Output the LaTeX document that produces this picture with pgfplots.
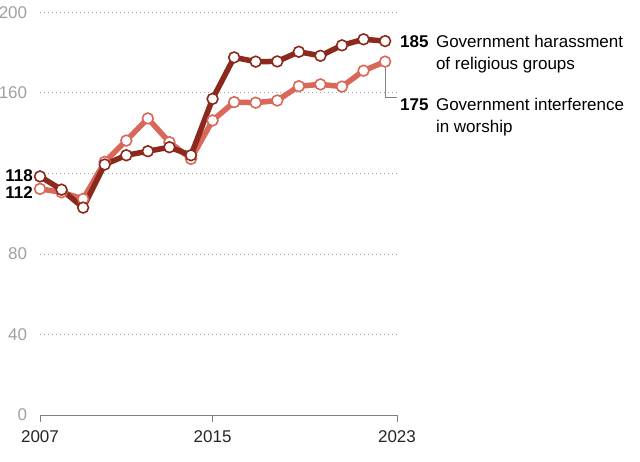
\documentclass[border=0pt]{standalone}
\usepackage{pgfplots}
\pgfplotsset{compat=1.18}
\usepackage{fontspec}
\setmainfont{Liberation Sans}
\definecolor{darkred}{HTML}{8B2A1C}
\definecolor{lightred}{HTML}{D9675A}
\definecolor{gridgray}{HTML}{A8A8A8}
\definecolor{labgray}{HTML}{A0A0A0}
\begin{document}
\fontsize{17bp}{20bp}\selectfont
\begin{tikzpicture}
\begin{axis}[
  scale only axis, width=357bp, height=402.7bp,
  xmin=2007, xmax=2023.55, ymin=0, ymax=200,
  axis x line*=bottom, axis y line*=left,
  y axis line style={draw=none},
  x axis line style={draw=gray, line width=0.9bp},
  xtick={2007,2015,2023.55}, xticklabels={2007,2015,2023},
  ytick={0,40,80,120,160,200}, yticklabels={0,40,80,{},160,200},
  ytick style={draw=none},
  xtick style={draw=gray, line width=0.9bp},
  tick align=outside, major tick length=7bp,
  x tick label style={text=black!85, yshift=-3bp},
  y tick label style={text=labgray, xshift=0bp},
  /pgf/number format/assume math mode=true,
  ymajorgrids, major grid style={draw=gridgray, line width=0.8bp, dash pattern=on 1bp off 3bp},
  clip=false,
  every axis plot/.append style={line width=5.5bp, mark=*, mark size=5.4bp},
]
\addplot[color=lightred, mark options={draw=lightred, fill=white, line width=1.6bp}] coordinates {
(2007,112.3) (2008,110.6) (2009,107.3) (2010,125.7) (2011,136.3) (2012,147.3)
(2013,135.5) (2014,127.2) (2015,146.3) (2016,155.4) (2017,155.1) (2018,156.2)
(2019,163.3) (2020,164.2) (2021,163.1) (2022,171.0) (2023,175.5)};
\addplot[color=darkred, mark options={draw=darkred, fill=white, line width=1.6bp}] coordinates {
(2007,118.5) (2008,111.9) (2009,103.0) (2010,124.4) (2011,129.0) (2012,131.0)
(2013,133.0) (2014,129.0) (2015,157.0) (2016,177.6) (2017,175.5) (2018,175.6)
(2019,180.4) (2020,178.4) (2021,183.6) (2022,186.6) (2023,185.7)};
% leader line
\draw[gray, line width=0.9bp] (axis cs:2023,172.3) -- (axis cs:2023,157.8) -- (axis cs:2023.55,157.8);
% left labels
\node[anchor=east, font=\bfseries, inner sep=0pt] at (axis cs:2006.68,118.8) {118};
\node[anchor=east, font=\bfseries, inner sep=0pt] at (axis cs:2006.68,110.6) {112};
% right labels
\node[anchor=base west, font=\bfseries, inner sep=0pt] at (axis cs:2023.69,182.4) {185};
\node[anchor=base west, inner sep=0pt] at (axis cs:2025.35,182.4) {Government harassment};
\node[anchor=base west, inner sep=0pt] at (axis cs:2025.35,171.8) {of religious groups};
\node[anchor=base west, font=\bfseries, inner sep=0pt] at (axis cs:2023.69,151.1) {175};
\node[anchor=base west, inner sep=0pt] at (axis cs:2025.35,151.1) {Government interference};
\node[anchor=base west, inner sep=0pt] at (axis cs:2025.35,140.4) {in worship};
\end{axis}
\pgfresetboundingbox
\useasboundingbox (-40bp,-47bp) rectangle (600bp,415bp);
\end{tikzpicture}
\end{document}
